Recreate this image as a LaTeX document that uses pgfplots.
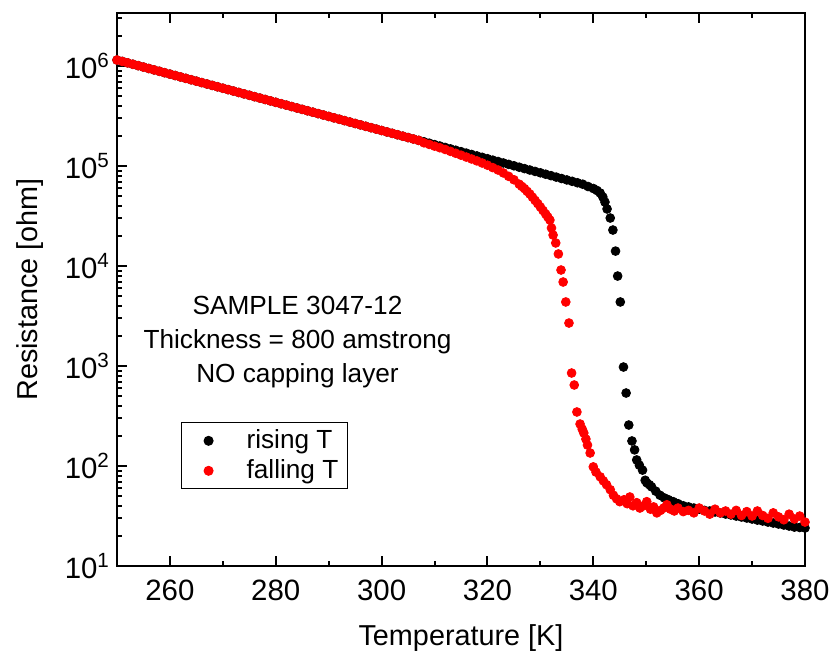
\documentclass[border=0pt]{standalone}
\usepackage{pgfplots}
\pgfplotsset{compat=1.18}
\usepackage{fontspec}
\setmainfont{Liberation Sans}
\pgfplotsset{dotlegend/.style={legend image code/.code={\path[draw=none, fill=none] (0pt,-2pt) (28pt,2pt); \draw[##1] plot coordinates {(11pt,0pt)};}}}

\pgfplotstableread{
T R
250 1148200
251 1111500
252 1076000
253 1041600
254 1008300
255 976100
256 944900
257 914700
258 885500
259 857200
260 829900
261 803400
262 777700
263 752900
264 728800
265 705600
266 683000
267 661200
268 640100
269 619700
270 599800
271 580700
272 562100
273 544200
274 526800
275 510000
276 493700
277 477900
278 462700
279 447900
280 433500
281 419700
282 406300
283 393300
284 380700
285 368600
286 356800
287 345400
288 334400
289 323700
290 313300
291 303300
292 293600
293 284300
294 275200
295 266400
296 257900
297 249700
298 241700
299 234000
300 226500
301 219300
302 212300
303 205500
304 198900
305 192600
306 186400
307 180500
308 174700
309 169100
310 163700
311 158500
312 153400
313 148500
314 143800
315 139200
316 134700
317 130400
318 126200
319 122200
320 118300
321 114500
322 110900
323 107300
324 103900
325 100600
326 97300
327 94200
328 91200
329 88300
330 85500
331 82800
332 80100
333 77500
334 75000
335 72600
336 70300
337 68000
338 65800
339 62400
340 59600
340.7 56900
341.3 53700
341.8 49000
342.2 43600
342.6 37200
343.2 30200
343.7 22900
344.2 14100
344.6 7940
345.1 4370
345.7 977
346.2 537
346.7 257
347.3 178
347.8 145
348.2 115
348.7 102
349.3 91
349.8 72
350.1 68
350.6 65
351.0 62
351.8 56
352.6 51
353.4 48
354.2 46
355.1 44
356 42
357 40
358 39
359 38
360 37
361 36
362 35.5
363 34.7
364 33.9
365 33.1
366 32.4
367 31.6
368 30.9
369 30.2
370 29.5
371 28.8
372 28.2
373 27.5
374 26.9
375 26.3
376 25.7
377 25.1
378 24.5
379 24.3
380 24
}\rising

\pgfplotstableread{
T R
250 1148200
251 1111500
252 1076000
253 1041600
254 1008300
255 976100
256 944900
257 914700
258 885500
259 857200
260 829900
261 803400
262 777700
263 752900
264 728800
265 705600
266 683000
267 661200
268 640100
269 619700
270 599800
271 580700
272 562100
273 544200
274 526800
275 510000
276 493700
277 477900
278 462700
279 447900
280 433500
281 419700
282 406300
283 393300
284 380700
285 368600
286 356800
287 345400
288 334400
289 323700
290 313300
291 303300
292 293600
293 284300
294 275200
295 266400
296 257900
297 249700
298 241700
299 234000
300 226500
301 219300
302 212300
303 205500
304 198900
305 192600
306 186400
307 180500
308 170700
309 164500
310 158100
311 152400
312 146500
313 140200
314 134200
315 128400
316 122900
317 117600
318 112500
319 107200
320 101900
321 96400
322 91200
323 85300
324 78900
325 72900
326 65800
326.5 62500
327 59400
327.5 55800
328 52500
328.5 48800
329 45300
329.5 42100
330 38900
330.5 35900
331 33100
331.4 30900
331.8 28800
332.1 24000
332.4 20400
332.9 17000
333.4 13200
333.9 9120
334.3 6920
334.8 4370
335.4 2690
335.9 851
336.4 646
336.9 347
337.5 263
337.9 234
338.2 214
338.6 186
338.9 162
339.4 135
340.0 98
340.5 87
341.3 78
341.9 71
342.5 65
343.2 58
343.8 51
344.4 47
345.0 44
345.8 46
346.4 42
346.9 49
347.5 40
348.2 43
348.8 38
349.5 40
350.1 44
350.8 37
351.4 39
352.0 34
352.7 36
353.3 38
353.9 41
354.6 37
355.3 35.5
356 38
357 35
358 36
359 34
360 38
361 35.5
362 33
363 37
364 34
365 35.5
366 33
367 36
368 32
369 35
370 31.6
371 35.5
372 32
373 30
374 34
375 31
376 29
377 33
378 29.5
379 31.6
380 27.5
}\falling

\begin{document}
\begin{tikzpicture}
\begin{axis}[
  ymode=log,
  scale only axis,
  width=344pt, height=276.5pt,
  xmin=250, xmax=380,
  ymin=10, ymax=3.39e6,
  axis line style={line width=1pt},
  every tick/.style={line width=1pt, black},
  major tick length=5pt,
  minor tick length=2.5pt,
  xtick={260,280,...,380},
  minor x tick num=1,
  xtick pos=both,
  ytick pos=left,
  tick align=inside,
  ytick={10,100,1000,10000,100000,1000000},
  minor ytick={20,30,40,50,60,70,80,90,200,300,400,500,600,700,800,900,2000,3000,4000,5000,6000,7000,8000,9000,20000,30000,40000,50000,60000,70000,80000,90000,200000,300000,400000,500000,600000,700000,800000,900000,2000000,3000000},
  yticklabels={10\textsuperscript{1},10\textsuperscript{2},10\textsuperscript{3},10\textsuperscript{4},10\textsuperscript{5},10\textsuperscript{6}},
  /pgf/number format/assume math mode=true,
  tick label style={font=\fontsize{14.7}{17}\selectfont},
  xticklabel style={yshift=-3.5pt},
  xlabel={Temperature [K]},
  ylabel={Resistance [ohm]},
  label style={font=\fontsize{14.4}{17}\selectfont},
  xlabel style={anchor=center, at={(axis description cs:0.5,-0.1302)}},
  ylabel style={anchor=center, at={(axis description cs:-0.1265,0.5)}},
  legend style={at={(axis description cs:0.093,0.260)}, anchor=north west,
    draw=black, line width=0.6pt, font=\fontsize{13.1}{15}\selectfont,
    inner xsep=2.5pt, inner ysep=1.5pt,
    nodes={inner xsep=2pt, inner ysep=2pt}},
  legend cell align=left,
]
\addplot[only marks, mark=*, mark size=2.2pt, color=black, dotlegend] table[x=T, y=R] {\rising};
\addlegendentry{rising T}
\addplot[only marks, mark=*, mark size=2.2pt, color=red, dotlegend] table[x=T, y=R] {\falling};
\addlegendentry{falling T}
\node[align=center, font=\fontsize{13.1}{17}\selectfont, anchor=center] at (axis description cs:0.2624,0.405) {SAMPLE 3047-12\\Thickness = 800 amstrong\\NO capping layer};
\end{axis}
\pgfresetboundingbox
\useasboundingbox (-58.5pt,-47.5pt) rectangle (359pt,283pt);
\end{tikzpicture}
\end{document}
